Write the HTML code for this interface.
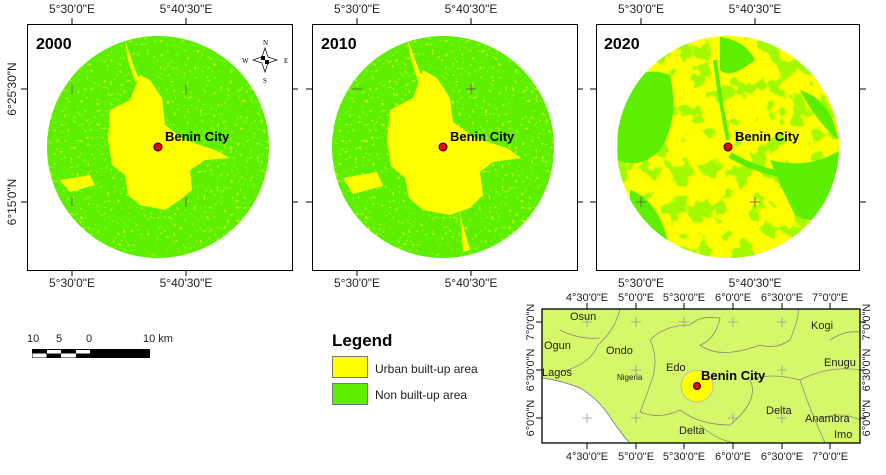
<!DOCTYPE html>
<html><head><meta charset="utf-8"><style>
body{margin:0;background:#fff}
svg{display:block;font-family:"Liberation Sans",Arial,sans-serif}
</style></head><body>
<svg width="886" height="475" viewBox="0 0 886 475" xmlns="http://www.w3.org/2000/svg">
<defs>
<clipPath id="c"><circle cx="158" cy="147" r="111"/></clipPath>
<filter id="n" x="0" y="0" width="1" height="1">
<feTurbulence type="fractalNoise" baseFrequency="0.3" numOctaves="2" seed="3"/>
<feColorMatrix type="matrix" values="0 0 0 0 1  0 0 0 0 1  0 0 0 0 0  0 0 0 -25 8"/>
</filter>
<filter id="n2" x="0" y="0" width="1" height="1">
<feTurbulence type="fractalNoise" baseFrequency="0.05" numOctaves="3" seed="7"/>
<feColorMatrix type="matrix" values="0 0 0 0 0.36  0 0 0 0 0.95  0 0 0 0 0  0 0 0 -14 6.4"/>
</filter>
</defs>
<g font-size="12" fill="#222">
<!-- panel 1 -->
<g>
<rect x="27.5" y="24.5" width="265" height="246" fill="#fff" stroke="#000"/>
<g clip-path="url(#c)">
<rect x="40" y="30" width="240" height="235" fill="#5cf000"/>
<rect x="40" y="30" width="240" height="235" filter="url(#n)" opacity="0.6"/>
<path d="M110 110 L130 100 L140 75 L150 80 L162 98 L165 125 L185 140 L215 150 L230 158 L205 160 L190 170 L192 190 L180 200 L165 210 L140 205 L128 195 L125 175 L112 165 L108 140 Z" fill="#ffff00"/>
<path d="M125 40 L135 70 L140 80 L135 82 L128 60 Z M60 180 L90 175 L95 185 L70 192Z" fill="#ffff00"/>
</g>
<circle cx="158" cy="147" r="4" fill="#e00" stroke="#000"/>
<text x="165" y="141" font-size="13" font-weight="bold" fill="#000">Benin City</text>
<text x="36" y="49" font-size="16" font-weight="bold" fill="#000">2000</text>
<g transform="translate(265,60)" fill="#000">
<path d="M0-12 L3-3 L12 0 L3 3 L0 12 L-3 3 L-12 0 L-3-3Z" fill="#fff" stroke="#000" stroke-width="0.7"/>
<rect x="-4" y="-4" width="4" height="4"/><rect x="0" y="0" width="4" height="4"/>
<text x="-2" y="-15" font-size="7" font-family="Liberation Serif">N</text>
<text x="-2" y="23" font-size="7" font-family="Liberation Serif">S</text>
<text x="-23" y="3" font-size="7" font-family="Liberation Serif">W</text>
<text x="19" y="3" font-size="7" font-family="Liberation Serif">E</text>
</g>
</g>
<!-- panel 2 -->
<g transform="translate(285,0)">
<rect x="27.5" y="24.5" width="265" height="246" fill="#fff" stroke="#000"/>
<g clip-path="url(#c)">
<rect x="40" y="30" width="240" height="235" fill="#5cf000"/>
<rect x="40" y="30" width="240" height="235" filter="url(#n)" opacity="0.65"/>
<path d="M105 110 L128 98 L138 70 L152 78 L165 98 L168 122 L190 138 L222 148 L236 158 L208 162 L195 172 L198 195 L185 208 L165 215 L138 210 L124 198 L120 178 L106 166 L102 140 Z" fill="#ffff00"/>
<path d="M122 38 L134 70 L140 82 L134 84 L126 60 Z M58 178 L92 172 L98 186 L68 194Z M175 215 L185 250 L178 252 Z" fill="#ffff00"/>
</g>
<circle cx="158" cy="147" r="4" fill="#e00" stroke="#000"/>
<text x="165" y="141" font-size="13" font-weight="bold" fill="#000">Benin City</text>
<text x="36" y="49" font-size="16" font-weight="bold" fill="#000">2010</text>
</g>
<!-- panel 3 -->
<g transform="translate(570,0)">
<rect x="26.5" y="24.5" width="263" height="246" fill="#fff" stroke="#000"/>
<g clip-path="url(#c)">
<rect x="40" y="30" width="240" height="235" fill="#ffff00"/>
<rect x="40" y="30" width="240" height="235" filter="url(#n2)"/>
<path d="M47 110 Q60 60 100 75 Q110 120 90 150 Q70 170 48 160Z M200 160 Q240 170 270 150 L272 200 Q250 230 225 215 Q210 185 200 160Z M60 190 Q90 200 100 250 L60 240Z M150 37 Q175 40 185 60 Q160 80 150 70Z M230 90 Q262 100 268 140 Q245 120 230 90Z" fill="#5cf000"/>
<path d="M160 155 Q185 170 215 175 Q245 190 260 210" stroke="#5cf000" stroke-width="6" fill="none"/>
<path d="M158 140 Q150 100 145 60" stroke="#5cf000" stroke-width="4" fill="none"/>
</g>
<circle cx="158" cy="147" r="4" fill="#e00" stroke="#000"/>
<text x="165" y="141" font-size="13" font-weight="bold" fill="#000">Benin City</text>
<text x="34" y="49" font-size="16" font-weight="bold" fill="#000">2020</text>
</g>
<!-- ticks & labels -->
<g stroke="#000">
<path d="M72 18v6M186 18v6M72 270v6M186 270v6M357 18v6M471 18v6M357 270v6M471 270v6M641 18v6M755 18v6M21 89h6M21 202h6M292 89h6M292 202h6M306 89h6M306 202h6M577 89h6M577 202h6M590 89h6M590 202h6M860 89h6M860 202h6"/>
<path d="M72 84v10M186 84v10M72 197v10M186 197v10M352 89h10M466 89h10M471 84v10M641 197v10M636 202h10M750 202h10M755 197v10" stroke="#555" stroke-width="0.8"/>
</g>
<g text-anchor="middle">
<text x="72" y="13">5°30'0"E</text><text x="186" y="13">5°40'30"E</text>
<text x="357" y="13">5°30'0"E</text><text x="471" y="13">5°40'30"E</text>
<text x="641" y="13">5°30'0"E</text><text x="755" y="13">5°40'30"E</text>
<text x="72" y="287">5°30'0"E</text><text x="186" y="287">5°40'30"E</text>
<text x="357" y="287">5°30'0"E</text><text x="471" y="287">5°40'30"E</text>
<text x="641" y="287">5°30'0"E</text><text x="755" y="287">5°40'30"E</text>
<text transform="translate(16,89) rotate(-90)">6°25'30"N</text>
<text transform="translate(16,202) rotate(-90)">6°15'0"N</text>
</g>
<!-- scale bar -->
<text x="27" y="342" font-size="11">10</text><text x="56" y="342" font-size="11">5</text><text x="86" y="342" font-size="11">0</text><text x="143" y="342" font-size="11">10 km</text>
<rect x="32.5" y="349.5" width="117" height="8" fill="#000" stroke="#000"/>
<rect x="47" y="350" width="14" height="3.5" fill="#fff"/><rect x="76" y="350" width="14" height="3.5" fill="#fff"/>
<rect x="32.5" y="353.5" width="14" height="4" fill="#fff"/><rect x="61" y="353.5" width="15" height="4" fill="#fff"/>
<!-- legend -->
<text x="332" y="346" font-size="17" font-weight="bold" fill="#000">Legend</text>
<rect x="332.5" y="356.5" width="35" height="21" fill="#ffff00" stroke="#777"/>
<rect x="332.5" y="383.5" width="35" height="21" fill="#5cf000" stroke="#777"/>
<text x="375" y="373">Urban built-up area</text>
<text x="375" y="399">Non built-up area</text>
<!-- inset -->
<g font-size="11">
<rect x="542" y="309" width="318" height="134" fill="#d5f76a"/>
<path d="M542 378 Q560 380 580 388 Q600 400 612 420 Q626 440 630 443 L542 443Z" fill="#fff" stroke="#888"/>
<g fill="none" stroke="#8a8a7a" stroke-width="0.8">
<path d="M620 309 Q615 330 598 345 Q590 365 560 372 M560 330 Q580 340 600 338 M650 385 Q660 360 650 340 Q665 325 690 325 Q700 315 720 318 Q715 340 700 345 Q720 360 760 345 Q775 350 790 340 Q800 315 798 309 M650 385 Q645 400 640 412 Q660 420 680 410 Q700 425 730 425 Q760 400 750 380 Q770 372 800 380 Q810 410 825 443 M800 380 Q830 365 860 370 M815 420 Q840 410 860 420 M700 425 Q720 443 740 443 M830 340 Q845 330 860 332"/>
</g>
<g stroke="#999" stroke-width="0.8"><path d="M587 317v10M582 322h10M636 317v10M631 322h10M684 317v10M679 322h10M733 317v10M728 322h10M782 317v10M777 322h10M636 365v10M631 370h10M587 413v10M582 418h10M636 413v10M631 418h10M733 413v10M728 418h10M782 365v10M777 370h10M782 413v10M777 418h10"/></g>
<circle cx="697" cy="386" r="16" fill="#ffff00" stroke="#bbb"/>
<circle cx="697" cy="386" r="3.5" fill="#e00" stroke="#000"/>
<text x="701" y="380" font-size="13" font-weight="bold" fill="#000">Benin City</text>
<text x="570" y="320">Osun</text><text x="544" y="349">Ogun</text><text x="606" y="354">Ondo</text>
<text x="542" y="376">Lagos</text><text x="617" y="380" font-size="8">Nigeria</text><text x="666" y="371">Edo</text>
<text x="766" y="414">Delta</text><text x="679" y="434">Delta</text><text x="811" y="329">Kogi</text>
<text x="824" y="366">Enugu</text><text x="805" y="422">Anambra</text><text x="834" y="438">Imo</text>
<rect x="542" y="309" width="318" height="134" fill="none" stroke="#000" stroke-width="1.3"/>
<g stroke="#000"><path d="M587 303v6M636 303v6M684 303v6M733 303v6M782 303v6M830 303v6M587 443v6M636 443v6M684 443v6M733 443v6M782 443v6M830 443v6M536 322h6M536 370h6M536 418h6M860 322h6M860 370h6M860 418h6"/></g>
<g text-anchor="middle" font-size="11"><text x="587" y="301">4°30'0"E</text><text x="636" y="301">5°0'0"E</text><text x="684" y="301">5°30'0"E</text><text x="733" y="301">6°0'0"E</text><text x="782" y="301">6°30'0"E</text><text x="830" y="301">7°0'0"E</text>
<text x="587" y="460">4°30'0"E</text><text x="636" y="460">5°0'0"E</text><text x="684" y="460">5°30'0"E</text><text x="733" y="460">6°0'0"E</text><text x="782" y="460">6°30'0"E</text><text x="830" y="460">7°0'0"E</text>
<text transform="translate(534,322) rotate(-90)">7°0'0"N</text><text transform="translate(534,370) rotate(-90)">6°30'0"N</text><text transform="translate(534,418) rotate(-90)">6°0'0"N</text>
<text transform="translate(870,322) rotate(-90)">7°0'0"N</text><text transform="translate(870,370) rotate(-90)">6°30'0"N</text><text transform="translate(870,418) rotate(-90)">6°0'0"N</text></g>
</g>
</g>
</svg>
</body></html>
